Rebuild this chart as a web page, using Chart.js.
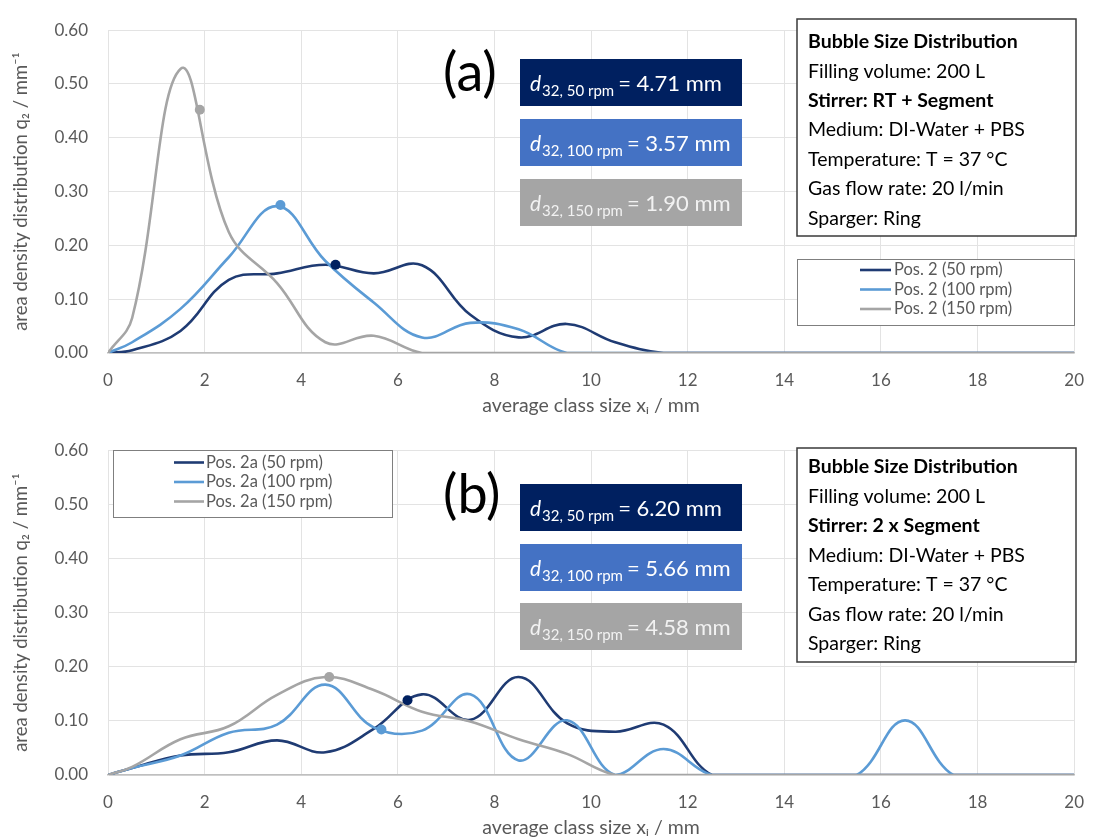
<!DOCTYPE html>
<html>
<head>
<meta charset="utf-8">
<script src="https://cdn.jsdelivr.net/npm/chart.js@4/dist/chart.umd.min.js"></script>
<style>
  html, body { margin: 0; padding: 0; background: #ffffff; }
  #wrap { position: relative; width: 1101px; height: 839px; overflow: hidden; }
  canvas { position: absolute; left: 0; }
</style>
</head>
<body>
<div id="wrap">
  <canvas id="chartA" width="1101" height="420" style="top:0"></canvas>
  <canvas id="chartB" width="1101" height="419" style="top:420px"></canvas>
</div>
<script>
// Class midpoints of the bubble size classes (mm)
const classSizes = [0, 0.5, 1.5, 2.5, 3.5, 4.5, 5.5, 6.5, 7.5, 8.5, 9.5,
                    10.5, 11.5, 12.5, 13.5, 14.5, 15.5, 16.5, 17.5, 18.5, 19.5, 20];

// (a) Pos. 2, stirrer RT + Segment: q2 in 1/mm
const q2PosA50  = [0, 0.005, 0.041, 0.136, 0.148, 0.164, 0.148, 0.163, 0.071, 0.029, 0.054,
                   0.020, 0, 0, 0, 0, 0, 0, 0, 0, 0, 0];
const q2PosA100 = [0, 0.020, 0.082, 0.178, 0.273, 0.171, 0.094, 0.029, 0.056, 0.044, 0,
                   0, 0, 0, 0, 0, 0, 0, 0, 0, 0, 0];
const q2PosA150 = [0, 0.065, 0.528, 0.225, 0.130, 0.020, 0.032, 0, 0, 0, 0,
                   0, 0, 0, 0, 0, 0, 0, 0, 0, 0, 0];

// (b) Pos. 2a, stirrer 2 x Segment
const q2PosB50  = [0, 0.013, 0.036, 0.042, 0.064, 0.042, 0.085, 0.149, 0.102, 0.181, 0.096,
                   0.080, 0.093, 0, 0, 0, 0, 0, 0, 0, 0, 0];
const q2PosB100 = [0, 0.013, 0.036, 0.078, 0.093, 0.167, 0.088, 0.082, 0.149, 0.027, 0.101,
                   0, 0.048, 0, 0, 0, 0, 0.101, 0, 0, 0, 0];
const q2PosB150 = [0, 0.015, 0.066, 0.090, 0.148, 0.181, 0.157, 0.117, 0.099, 0.066, 0.039,
                   0, 0, 0, 0, 0, 0, 0, 0, 0, 0, 0];

// Sauter mean diameters d32 (mm) and the q2 value at that size
const d32A  = [4.71, 3.57, 1.90];
const d32qA = [0.164, 0.275, 0.452];
const d32B  = [6.20, 5.66, 4.58];
const d32qB = [0.138, 0.084, 0.181];

const speedLabels = ['50 rpm', '100 rpm', '150 rpm'];
const legendA = ['Pos. 2 (50 rpm)', 'Pos. 2 (100 rpm)', 'Pos. 2 (150 rpm)'];
const legendB = ['Pos. 2a (50 rpm)', 'Pos. 2a (100 rpm)', 'Pos. 2a (150 rpm)'];

const infoA = ['Bubble Size Distribution', 'Filling volume: 200 L', 'Stirrer: RT + Segment',
               'Medium: DI-Water + PBS', 'Temperature: T = 37 °C', 'Gas flow rate: 20 l/min', 'Sparger: Ring'];
const infoB = ['Bubble Size Distribution', 'Filling volume: 200 L', 'Stirrer: 2 x Segment',
               'Medium: DI-Water + PBS', 'Temperature: T = 37 °C', 'Gas flow rate: 20 l/min', 'Sparger: Ring'];
const infoBold = [true, false, true, false, false, false, false];

const xTicks = [0, 2, 4, 6, 8, 10, 12, 14, 16, 18, 20];
const yTicks = [0, 0.1, 0.2, 0.3, 0.4, 0.5, 0.6];

const lineColors = ['#1F3B73', '#5B9BD5', '#A5A5A5'];
const dotColors  = ['#002060', '#5B9BD5', '#A5A5A5'];
const boxColors  = ['#002060', '#4472C4', '#A5A5A5'];
const boxText    = ['#FFFFFF', '#FFFFFF', '#F2F2F2'];
const FONT = 'Lato, "Open Sans", sans-serif';

function toPoints(xs, ys) { return xs.map((x, i) => ({ x: x, y: ys[i] })); }

function buildDatasets(series, legend, d32, d32q) {
  // later series are painted over earlier ones; d32 dots sit on top
  const sets = series.map((ys, i) => ({
    label: legend[i],
    data: toPoints(classSizes, ys),
    order: series.length - i,
    showLine: true,
    borderColor: lineColors[i],
    backgroundColor: lineColors[i],
    borderWidth: 2.6,
    pointRadius: 0,
    tension: 0.4,
    fill: false
  }));
  d32.forEach((x, i) => {
    sets.push({
      label: 'd32 ' + speedLabels[i],
      data: [{ x: x, y: d32q[i] }],
      order: 0,
      showLine: false,
      pointRadius: 5,
      pointBackgroundColor: dotColors[i],
      pointBorderColor: dotColors[i],
      pointBorderWidth: 0
    });
  });
  return sets;
}

// Annotation boxes, panel letter and legend drawn on the chart canvas
const panelNotes = {
  id: 'panelNotes',
  afterDatasetsDraw(chart, args, o) {
    const ctx = chart.ctx;
    ctx.save();

    // panel letter
    ctx.fillStyle = '#000000';
    ctx.font = '54px ' + FONT;
    ctx.textAlign = 'left';
    ctx.textBaseline = 'middle';
    ctx.fillText(o.letter, o.letterX, o.letterY);

    // d32 boxes
    o.d32.forEach((v, i) => {
      const bx = o.boxX, by = o.boxY[i], bw = o.boxW, bh = o.boxH;
      ctx.fillStyle = boxColors[i];
      ctx.fillRect(bx, by, bw, bh);
      const base = by + bh / 2 + 8.5;
      let cx = bx + 10;
      ctx.fillStyle = boxText[i];
      ctx.textBaseline = 'alphabetic';
      ctx.font = 'italic 21px ' + FONT;
      ctx.fillText('d', cx, base);
      cx += ctx.measureText('d').width + 1;
      ctx.font = '15px ' + FONT;
      const sub = '32, ' + speedLabels[i];
      ctx.fillText(sub, cx, base + 5);
      cx += ctx.measureText(sub).width + 4;
      ctx.font = '22px ' + FONT;
      ctx.fillText('= ' + v.toFixed(2) + ' mm', cx, base);
    });

    // info box
    const ib = o.info;
    ctx.fillStyle = '#FFFFFF';
    ctx.fillRect(ib.x, ib.y, ib.w, ib.h);
    ctx.strokeStyle = '#3A3A3A';
    ctx.lineWidth = 1.5;
    ctx.strokeRect(ib.x, ib.y, ib.w, ib.h);
    ctx.fillStyle = '#000000';
    ctx.textBaseline = 'middle';
    o.lines.forEach((t, i) => {
      ctx.font = (infoBold[i] ? 'bold ' : '') + '19.5px ' + FONT;
      ctx.fillText(t, ib.x + 11, ib.firstY + i * ib.step);
    });

    // legend
    const lg = o.legend;
    ctx.fillStyle = '#FFFFFF';
    ctx.fillRect(lg.x, lg.y, lg.w, lg.h);
    ctx.strokeStyle = '#7F7F7F';
    ctx.lineWidth = 1;
    ctx.strokeRect(lg.x + 0.5, lg.y + 0.5, lg.w, lg.h);
    ctx.font = '16.5px ' + FONT;
    o.labels.forEach((t, i) => {
      const yy = lg.firstY + i * lg.step;
      ctx.strokeStyle = lineColors[i];
      ctx.lineWidth = 2.6;
      ctx.beginPath();
      ctx.moveTo(lg.lineX0, yy);
      ctx.lineTo(lg.lineX1, yy);
      ctx.stroke();
      ctx.fillStyle = '#595959';
      ctx.fillText(t, lg.textX, yy);
    });
    ctx.restore();
  }
};

function axisOptions(areaTop, areaBottom, canvasH, xTitlePad) {
  return {
    x: {
      type: 'linear', min: 0, max: 20,
      afterBuildTicks: s => { s.ticks = xTicks.map(v => ({ value: v })); },
      afterFit: s => { s.height = canvasH - areaBottom; },
      ticks: { color: '#595959', font: { family: FONT, size: 17 }, padding: 17, maxRotation: 0 },
      grid: { color: '#E3E3E3', lineWidth: 1, drawTicks: false },
      border: { display: true, color: '#BFBFBF', width: 1.5 },
      title: {
        display: true, text: 'average class size xᵢ / mm', color: '#595959',
        font: { family: FONT, size: 19.5 }, padding: { top: 0, bottom: xTitlePad }
      }
    },
    y: {
      type: 'linear', min: 0, max: 0.6,
      afterBuildTicks: s => { s.ticks = yTicks.map(v => ({ value: v })); },
      afterFit: s => { s.width = 108; },
      ticks: { color: '#595959', font: { family: FONT, size: 17 }, padding: 20,
               callback: v => Number(v).toFixed(2) },
      grid: { color: '#E3E3E3', lineWidth: 1, drawTicks: false },
      border: { display: true, color: '#E3E3E3', width: 1 },
      title: {
        display: true, text: 'area density distribution q₂ / mm⁻¹', color: '#595959',
        font: { family: FONT, size: 18.5 }, padding: { top: 10, bottom: 0 }
      }
    }
  };
}

function makeChart(id, series, legend, d32, d32q, areaTop, areaBottom, canvasH, xTitlePad, notes) {
  return new Chart(document.getElementById(id), {
    type: 'scatter',
    data: { datasets: buildDatasets(series, legend, d32, d32q) },
    options: {
      responsive: false,
      animation: false,
      devicePixelRatio: 1,
      layout: { padding: { top: areaTop, right: 18, left: 0, bottom: 0 } },
      scales: axisOptions(areaTop, areaBottom, canvasH, xTitlePad),
      plugins: {
        legend: { display: false },
        tooltip: { enabled: false },
        panelNotes: notes
      }
    },
    plugins: [panelNotes]
  });
}

makeChart('chartA', [q2PosA50, q2PosA100, q2PosA150], legendA, d32A, d32qA, 16, 353, 420, 2.5, {
  letter: '(a)', letterX: 443, letterY: 74,
  d32: d32A, boxX: 520, boxW: 222, boxH: 47, boxY: [59, 119, 179],
  lines: infoA,
  info: { x: 797, y: 19, w: 279, h: 217, firstY: 42, step: 29.4 },
  labels: legendA,
  legend: { x: 797, y: 259, w: 277, h: 66, firstY: 270, step: 19.5, lineX0: 860, lineX1: 891, textX: 894 }
});

makeChart('chartB', [q2PosB50, q2PosB100, q2PosB150], legendB, d32B, d32qB, 23, 355, 419, 0, {
  letter: '(b)', letterX: 443, letterY: 76,
  d32: d32B, boxX: 520, boxW: 222, boxH: 47, boxY: [64, 124, 183],
  lines: infoB,
  info: { x: 797, y: 28, w: 279, h: 214, firstY: 47, step: 29.5 },
  labels: legendB,
  legend: { x: 113, y: 30, w: 279, h: 67, firstY: 42.5, step: 19.5, lineX0: 174, lineX1: 204, textX: 206 }
});
</script>
</body>
</html>
